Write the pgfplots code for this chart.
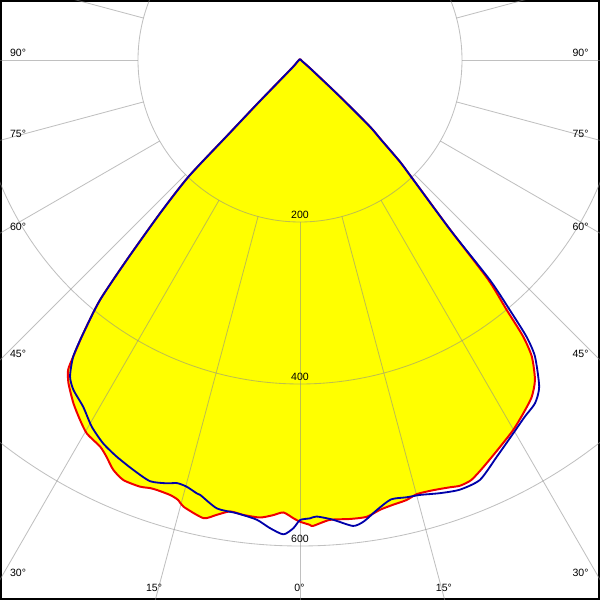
\documentclass[border=0pt]{standalone}
\usepackage{pgfplots}
\pgfplotsset{compat=1.18}
\usepackage{pgfplotstable}
\usepackage{fontspec}
\setmainfont{Liberation Sans}
\definecolor{lyellow}{RGB}{255,255,0}
\definecolor{lred}{RGB}{240,0,0}
\definecolor{lblue}{RGB}{0,0,170}
\tikzset{
  gridc/.style={draw=black!45, opacity=0.55, line width=0.6pt},
  lab/.style={font=\fontsize{7.5}{9}\selectfont, inner sep=0pt},
}

\pgfplotstableread{
a I
-180 1
-120 1
-90 1
-70 2
-60 3
-50 6
-45 15
-44.3 73
-43.9 130
-43.7 199
-42.4 256
-40.9 327
-39.8 386
-38.4 431
-37.4 461
-36.8 478
-35.6 491
-33.4 508
-31.4 521
-29.7 531
-27.3 537.5
-26.0 545
-24.5 556
-22.8 562.6
-20.6 562.6
-19.3 560
-18.4 559.5
-16.6 560.5
-15.5 563.6
-14.6 570
-11.9 578
-10.4 571
-8.8 564
-7.1 566
-5.0 567
-3.4 563
-2.1 559
-0.8 566
0 570
1.2 574
1.6 575.5
3.7 569
6.2 570
8.3 570
10.1 564
11.8 561
13.6 559
15.1 555
17.2 556
19.3 559
20.6 561.5
22.2 560
24.3 551
27.4 537.5
30.0 527
32.3 516
34.5 505
36.3 490
38.0 465
38.9 439
39.6 400
40.6 357
41.5 280
43.7 196
44.5 176
45.5 140
46.4 119
47.5 67
50 20
55 6
60 3
70 2
90 1
120 1
180 1
}\redtab

\pgfplotstableread{
a I
-180 1
-120 1
-90 1
-70 2
-60 3
-50 6
-45 15
-44.3 73
-43.9 130
-43.7 199
-42.4 256
-40.9 327
-39.8 386
-38.4 431
-37.4 461
-36.0 483
-34.5 494
-32.0 505
-29.6 520.6
-27.2 532
-24.8 539.5
-22.1 546.4
-19.6 552
-17.5 548
-16.2 544
-14.9 545
-13.4 550
-12.9 551
-10.5 563
-7.9 565
-5.4 570
-3.7 579
-2.0 586
-0.8 578
0 568
1.25 566
2.1 564
4.1 569
6.5 579
7.9 575
9.7 563.6
11.7 554
13.7 555.7
15.4 557
17.9 562
20.4 566
23.2 564
26.4 546.7
29.7 531
32.2 520.6
34.4 513.6
36.2 500
38.4 467
39.3 441.6
40.0 403
40.8 359
41.5 280
43.7 196
44.5 176
45.5 140
46.4 119
47.5 67
50 20
55 6
60 3
70 2
90 1
120 1
180 1
}\bluetab

\begin{document}
\begin{tikzpicture}
\begin{axis}[
  width=15cm, height=15cm, scale only axis,
  xmin=-370.37, xmax=370.37, ymin=-666.67, ymax=74.07,
  xtick=\empty, ytick=\empty,
  axis line style={line width=3.2pt, black},
]
% fill (C0-C180 plane)
\addplot[fill=lyellow, draw=none, smooth, tension=0.4] table[x expr={\thisrow{I}*sin(\thisrow{a})}, y expr={-\thisrow{I}*cos(\thisrow{a})}] {\redtab};

% grid
\draw[gridc] (axis cs:0,0) circle[radius=200];
\draw[gridc] (axis cs:0,0) circle[radius=400];
\draw[gridc] (axis cs:0,0) circle[radius=600];
\pgfplotsinvokeforeach{-180,-165,-150,-135,-120,-105,-90,-75,-60,-45,-30,-15,0,15,30,45,60,75,90,105,120,135,150,165}{
  \draw[gridc] (axis cs:{200*sin(#1)},{-200*cos(#1)}) -- (axis cs:{1200*sin(#1)},{-1200*cos(#1)});
}

% curves
\addplot[lred, line width=1.4pt, line join=round, smooth, tension=0.4] table[x expr={\thisrow{I}*sin(\thisrow{a})}, y expr={-\thisrow{I}*cos(\thisrow{a})}] {\redtab};
\addplot[lblue, line width=1.3pt, line join=round, smooth, tension=0.4] table[x expr={\thisrow{I}*sin(\thisrow{a})}, y expr={-\thisrow{I}*cos(\thisrow{a})}] {\bluetab};

% radius labels
\node[lab, anchor=south] at (axis cs:0,-196) {200};
\node[lab, anchor=south] at (axis cs:0,-396) {400};
\node[lab, anchor=south] at (axis cs:0,-596) {600};

% angle labels
\node[lab] at (axis cs:-348.1,8.6) {90°};
\node[lab] at (axis cs:346.3,8.6) {90°};
\node[lab] at (axis cs:-348.1,-91.4) {75°};
\node[lab] at (axis cs:346.3,-91.4) {75°};
\node[lab] at (axis cs:-348.1,-206.2) {60°};
\node[lab] at (axis cs:346.3,-206.2) {60°};
\node[lab] at (axis cs:-348.1,-363.0) {45°};
\node[lab] at (axis cs:346.3,-363.0) {45°};
\node[lab] at (axis cs:-348.1,-633.3) {30°};
\node[lab] at (axis cs:346.3,-633.3) {30°};
\node[lab] at (axis cs:-180.2,-651.9) {15°};
\node[lab] at (axis cs:177.7,-651.9) {15°};
\node[lab] at (axis cs:-0.6,-651.9) {0°};

\coordinate (SW) at (rel axis cs:0,0);
\coordinate (NE) at (rel axis cs:1,1);
\end{axis}
\pgfresetboundingbox
\path[use as bounding box] (SW) rectangle (NE);
\end{tikzpicture}
\end{document}
